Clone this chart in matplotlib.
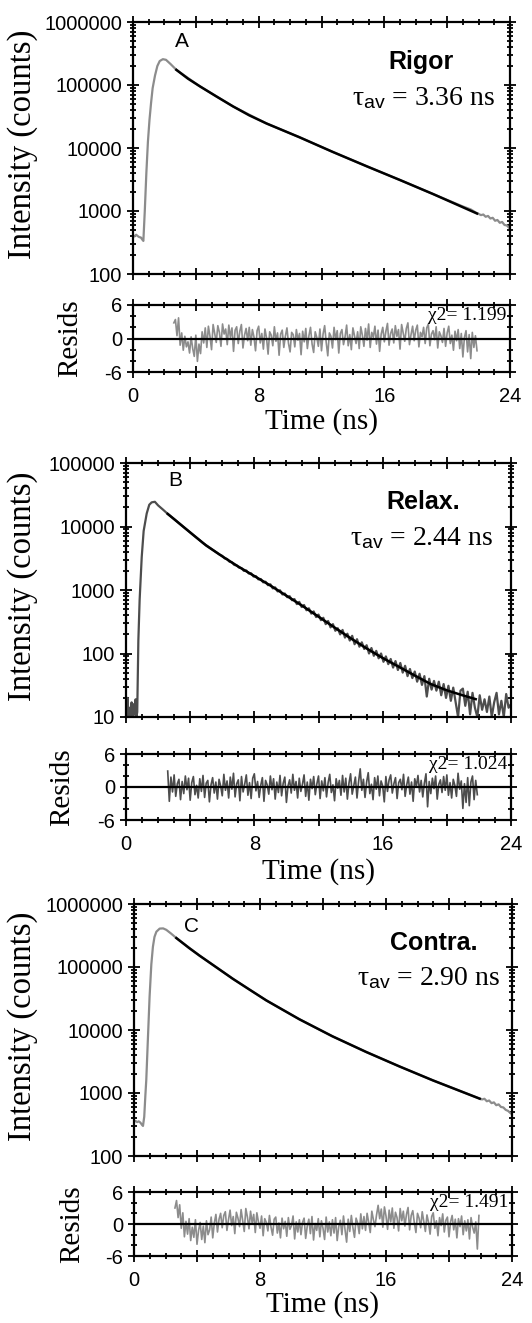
import numpy as np
import matplotlib
matplotlib.use('Agg')
import matplotlib.pyplot as plt
from matplotlib.ticker import MultipleLocator, LogLocator, FuncFormatter, NullFormatter

plt.rcParams['mathtext.fontset'] = 'custom'
plt.rcParams['mathtext.rm'] = 'Liberation Serif'
plt.rcParams['mathtext.sf'] = 'Liberation Sans'
plt.rcParams['mathtext.it'] = 'Liberation Serif:italic'
plt.rcParams['axes.unicode_minus'] = False
SANS = 'Liberation Sans'
SERIF = 'Liberation Serif'

# ---------------- data ----------------
letters = ['A', 'B', 'C']
conditions = ['Rigor', 'Relax.', 'Contra.']
tau_av = ['3.36', '2.44', '2.90']
chi2 = ['1.199', '1.024', '1.491']
y_limits = [(100, 1e6), (10, 1e5), (100, 1e6)]
x_ticks_labeled = [0, 8, 16, 24]

# Panel A (Rigor)
tA_data = [0.0, 0.1, 0.2, 0.3, 0.4, 0.5, 0.6, 0.66, 0.75, 0.85, 0.95, 1.05, 1.15, 1.25, 1.4,
           1.55, 1.7, 1.9, 2.1, 2.4, 2.76, 4.25, 6.37, 8.5, 10.6, 12.7, 14.9, 17.0, 19.1,
           21.0, 21.5, 21.9, 22.0, 22.15, 22.3, 22.45, 22.6, 22.75, 22.9, 23.05, 23.2,
           23.35, 23.5, 23.65, 23.8, 23.95, 24.0]
cA_data = [410, 395, 420, 400, 385, 380, 350, 335, 1000, 4000, 12600, 28000, 52000, 89000, 141000,
           200000, 240000, 257000, 251000, 214000, 174000, 95500, 45700, 24500, 14800, 8700, 5100,
           3100, 1860, 1180, 1060, 920, 900, 860, 880, 810, 835, 760, 780, 700, 720,
           650, 670, 600, 590, 540, 520]
tA_fit = [2.76, 3.5, 4.25, 5.3, 6.37, 7.4, 8.5, 10.6, 12.7, 14.9, 17.0, 19.1, 21.9]
cA_fit = [174000, 126000, 95500, 66000, 45700, 33000, 24500, 14800, 8700, 5100, 3100, 1860, 912]

# Panel B (Relax.)
tB_early = [0.0, 0.05, 0.1, 0.15, 0.2, 0.25, 0.3, 0.35, 0.4, 0.45, 0.5, 0.55, 0.6, 0.65, 0.7,
            0.77, 0.85, 0.98, 1.1, 1.29, 1.45, 1.6, 1.8, 2.0, 2.3, 2.6, 3.0, 3.6, 4.2, 4.8,
            5.4, 5.85]
cB_early = [18, 11, 20, 10, 14, 10, 12, 17, 10, 10, 16, 11, 19, 10, 12,
            160, 700, 3300, 8500, 16000, 22000, 24000, 24500, 21500, 18500, 15800, 13100, 9770,
            7300, 5500, 4300, 3590]
cB_tail = [3450, 3150, 3080, 2790, 2730, 2480, 2440, 2250, 2210, 2000,
           2030, 1820, 1830, 1630, 1650, 1470, 1490, 1320, 1350, 1190,
           1230, 1060, 1100, 950, 990, 850, 880, 770, 800, 690,
           720, 600, 650, 540, 580, 480, 515, 425, 460, 375,
           410, 335, 365, 290, 325, 258, 290, 228, 250, 200,
           235, 178, 205, 160, 190, 140, 168, 128, 150, 118,
           135, 100, 122, 92, 110, 84, 100, 74, 90, 68,
           82, 60, 76, 55, 71, 50, 64, 44, 57, 41,
           52, 36, 48, 32, 44, 21, 40, 27, 37, 26,
           36, 22, 33, 20, 31, 18, 29, 17, 10, 26,
           28, 15, 25, 11, 24, 14, 10, 22, 13, 19,
           12, 21, 10, 17, 24, 11, 18, 10, 23, 14,
           16]
tB_fit = [2.6, 3.6, 5.0, 6.0, 7.0, 8.0, 9.0, 10.0, 11.0, 12.0, 13.0, 14.0, 15.0, 16.0, 17.0,
          18.0, 19.0, 20.0, 21.0, 21.8]
cB_fit = [15800, 9770, 5010, 3390, 2340, 1660, 1175, 813, 562, 380, 257, 174, 120, 85, 62,
          45, 33, 26.3, 21.9, 19.1]

# Panel C (Contra.)
tC_data = [0.0, 0.1, 0.2, 0.3, 0.4, 0.5, 0.57, 0.65, 0.72, 0.78, 0.88, 0.99, 1.1, 1.2, 1.3,
           1.42, 1.63, 1.85, 2.05, 2.35, 2.69, 4.17, 6.29, 8.4, 10.5, 12.6, 14.75, 16.87,
           18.98, 21.95, 22.1, 22.25, 22.4, 22.55, 22.7, 22.85, 23.0, 23.15, 23.3, 23.45,
           23.6, 23.75, 23.9, 24.0]
cC_data = [350, 360, 345, 355, 340, 315, 300, 420, 900, 1620, 7000, 34000, 110000, 209000, 300000,
           363000, 407000, 410000, 389000, 340000, 288000, 151000, 64600, 29500, 14800, 7940,
           4470, 2630, 1585, 813, 790, 810, 740, 760, 690, 710, 640, 660, 600, 590,
           540, 520, 480, 460]
tC_fit = [2.69, 3.5, 4.17, 5.2, 6.29, 7.4, 8.4, 10.5, 12.6, 14.75, 16.87, 18.98, 21.95]
cC_fit = [288000, 200000, 151000, 100000, 64600, 42700, 29500, 14800, 7940, 4470, 2630, 1585, 813]

# Weighted residuals (one value per 0.1 ns channel from 2.6 ns to 21.9 ns)
rA = [2.8, 3.4, 0.5, 3.7, -1.2, 1.0, -2.1, 0.4, -1.5, -0.6,
      -2.6, 0.3, -1.8, -3.2, 0.6, -4.1, -1.0, -2.7, 1.2, -0.8,
      1.9, -1.6, 2.2, 0.4, -2.0, 2.5, 0.9, -0.7, 2.3, 1.1,
      -1.4, 2.6, 0.8, 1.7, -1.1, 2.4, 0.2, 1.9, -2.3, 1.5,
      2.1, -0.9, 1.3, 2.5, -1.7, 0.6, 1.8, -0.4, 2.0, -1.2,
      1.6, 0.3, -2.2, 1.4, 2.2, -0.8, 0.9, -1.9, 1.7, 0.1,
      -2.8, 1.2, 0.6, -1.3, 2.1, -0.5, 1.0, -3.0, 0.8, 1.5,
      -1.6, 0.4, 1.9, -0.9, -2.4, 1.1, 0.7, -1.5, 1.6, -0.3,
      0.9, -2.9, 1.3, -0.6, 1.8, -1.8, 0.5, 2.0, -1.0, -2.5,
      1.2, 0.2, -1.4, 1.7, -2.2, 0.8, 2.3, -0.7, -3.1, 1.0,
      0.4, -1.7, 2.0, -0.2, 1.4, -2.6, 0.9, 1.6, -1.1, 0.3,
      2.4, -1.3, 0.7, -2.0, 1.9, 0.5, -0.9, 1.2, -1.8, 2.1,
      0.6, -1.4, 1.8, -0.3, 2.6, -1.6, 1.1, 0.2, 2.2, -1.0,
      1.5, -2.3, 0.8, 2.0, -0.6, 1.3, 2.7, -1.2, 0.9, 1.7,
      -0.8, 2.3, 0.4, 1.6, -1.9, 2.5, 1.0, -0.5, 1.8, 2.8,
      -1.1, 0.7, 2.2, -0.4, 1.5, 2.4, -1.5, 1.1, 0.3, 2.0,
      -0.9, 1.9, 2.6, -1.3, 0.8, 1.4, -0.2, 2.1, -1.7, 1.2,
      0.5, -0.7, 1.8, -1.4, 1.0, 2.2, -0.9, 0.6, -2.1, 1.3,
      -0.4, 1.6, -1.8, 0.9, -3.3, 0.2, 1.4, -2.4, 0.7, -3.6,
      1.1, -1.6, 0.5, -2.2]
rB = [2.9, -2.6, 1.8, -0.9, 2.2, -1.7, 0.6, 1.4, -2.3, 1.0,
      -1.2, 2.0, -0.5, 1.6, -2.4, 0.8, 1.9, -1.4, 0.3, -2.0,
      1.5, -0.8, 2.1, -1.9, 0.7, 1.2, -2.7, 0.4, 1.7, -1.1,
      0.9, -2.2, 1.4, 0.2, -1.6, 2.3, -0.6, 1.1, -2.0, 1.8,
      -0.4, 2.5, -1.8, 0.6, 1.3, -2.5, 1.9, -0.9, 0.5, 2.2,
      -1.5, 0.8, -2.1, 1.6, 2.4, -0.7, 1.0, -1.9, 0.3, 1.7,
      -2.6, 1.2, 0.4, -1.3, 2.0, -0.5, 1.5, -2.2, 0.9, -1.0,
      2.1, -1.6, 0.7, 1.8, -2.8, 0.2, 1.3, -1.1, 2.3, -0.6,
      1.0, -2.0, 1.6, -0.8, 0.5, 2.2, -1.7, 0.9, -2.4, 1.4,
      -0.3, 1.9, -1.4, 0.6, 2.0, -2.1, 1.1, -0.7, 1.7, -1.8,
      0.8, 2.3, -1.0, 0.4, -2.5, 1.5, -0.2, 1.2, -1.5, 2.1,
      -0.9, 1.6, -2.2, 0.7, 2.4, -1.3, 0.3, 1.8, -2.0, 1.0,
      3.3, -0.6, 1.4, -1.9, 0.9, 2.6, -1.2, 0.5, -2.3, 1.7,
      -0.4, 2.0, -1.6, 1.1, 0.2, -2.7, 1.9, -0.8, 1.3, 2.2,
      -1.1, 0.6, 1.7, -2.1, 0.8, 1.4, -0.5, 2.3, -1.7, 0.4,
      1.8, -1.3, 0.9, -2.6, 1.5, 0.1, 2.1, -0.9, 1.2, -1.8,
      0.7, 2.4, -3.6, 1.0, -1.2, 1.6, -0.3, 2.0, -2.2, 0.5,
      1.3, -1.0, 1.9, -0.6, 2.2, -1.5, 0.8, -2.0, 1.4, 0.3,
      -1.7, 2.5, -0.4, 1.1, -3.9, 0.6, -2.8, 1.7, -3.4, 0.9,
      2.0, -2.3, 1.2, -1.4]
rC = [3.0, 4.4, 1.2, 3.6, -0.8, 2.1, -2.4, 0.5, -1.9, 1.0,
      -3.1, -0.6, -2.5, 0.8, -3.8, -1.2, 0.3, -2.9, -0.4, -3.5,
      0.6, -2.0, -1.1, 1.3, -2.6, 0.2, 1.8, -1.5, 0.9, 2.0,
      -0.7, 1.6, 2.3, -1.2, 0.8, 2.6, -0.3, 1.4, -1.8, 2.2,
      1.1, -0.5, 2.7, 0.6, -1.4, 2.9, 1.3, -0.9, 2.4, 0.2,
      1.8, -1.6, 2.1, 0.4, -0.8, 1.5, -2.2, 1.0, 0.3, -1.3,
      1.6, -0.6, -2.1, 0.9, 1.3, -1.7, 0.2, -2.6, 1.1, -0.9,
      0.5, -2.3, 1.2, -1.0, -0.3, 1.5, -2.8, 0.4, -1.5, 0.8,
      -2.0, 0.3, 1.1, -2.7, -0.4, 0.9, -1.8, 1.4, -3.0, 0.1,
      -1.2, 1.0, -2.4, 0.6, -0.8, -2.9, 1.3, -1.5, 0.4, -2.2,
      0.8, -1.7, 1.2, -3.1, -0.5, 0.7, -2.0, 1.5, -1.1, -3.4,
      0.9, -1.4, 1.6, -0.7, -2.5, 1.1, 0.2, -1.8, 1.9, -0.9,
      1.4, -1.2, 2.0, 0.3, -1.6, 2.4, 0.8, -0.5, 1.7, 3.5,
      1.0, 2.8, -0.6, 3.2, 1.5, -1.0, 2.6, 0.4, 3.0, -0.8,
      2.2, 1.2, -1.3, 2.9, 0.6, 2.4, -0.4, 1.8, 3.1, -1.1,
      1.6, 2.5, 0.2, -1.6, 2.0, 1.1, -0.7, 2.3, 0.5, -1.4,
      1.7, 0.3, -1.9, 1.4, 2.1, -0.8, 0.6, -2.2, 1.2, -0.3,
      1.9, -1.5, 0.7, 1.3, -2.4, 0.4, 1.6, -1.1, 0.9, -2.6,
      1.0, -0.5, 1.5, -2.0, 0.6, -1.3, 0.8, -2.8, 1.2, -0.6,
      -1.7, 0.4, -4.7, 1.6]

# channel grids
t_resid = np.round(2.6 + 0.1 * np.arange(len(rA)), 2)
tB_tail = np.round(6.0 + 0.15 * np.arange(len(cB_tail)), 2)
tB_data = list(tB_early) + list(tB_tail)
cB_data = list(cB_early) + list(cB_tail)

data_t = [tA_data, tB_data, tC_data]
data_c = [cA_data, cB_data, cC_data]
fit_t = [tA_fit, tB_fit, tC_fit]
fit_c = [cA_fit, cB_fit, cC_fit]
resids = [rA, rB, rC]

# ---------------- layout / style ----------------
W, H = 532, 1323
fig = plt.figure(figsize=(W / 100, H / 100), dpi=100)

main_boxes = [(133, 510, 22, 274), (126, 511, 463, 717), (134, 512, 904, 1156)]
res_boxes = [(133, 510, 305, 372), (126, 511, 754, 820), (134, 512, 1192, 1256)]
data_colors = ['#8c8c8c', '#4d4d4d', '#8c8c8c']
letter_pos = [(0.129, 0.922), (0.127, 0.932), (0.153, 0.91)]
cond_pos = [(0.763, 0.842), (0.772, 0.847), (0.792, 0.844)]
tau_pos = [(0.77, 0.697), (0.768, 0.703), (0.779, 0.705)]
resid_label_x = [70, 62, 72]
time_label_y = [422, 872, 1305]


def box(b):
    l, r, t, bt = b
    return [l / W, 1 - bt / H, (r - l) / W, (bt - t) / H]


def style_ticks(ax):
    for s in ax.spines.values():
        s.set_linewidth(1.6)
    ax.tick_params(which='both', direction='inout', top=True, right=True, width=1.3)
    ax.tick_params(which='major', length=8)
    ax.tick_params(which='minor', length=5)
    for lab in ax.get_xticklabels() + ax.get_yticklabels():
        lab.set_fontfamily(SANS)


int_fmt = FuncFormatter(lambda v, p: f'{int(round(v))}')
x_fmt = FuncFormatter(lambda v, p: f'{int(round(v))}' if int(round(v)) in x_ticks_labeled else '')

for i in range(3):
    ax = fig.add_axes(box(main_boxes[i]))
    ax.plot(data_t[i], data_c[i], color=data_colors[i], lw=1.6)
    ax.plot(fit_t[i], fit_c[i], color='black', lw=1.8)
    ax.set_yscale('log')
    ax.set_ylim(*y_limits[i])
    ax.set_xlim(0, 24)
    ax.xaxis.set_major_locator(MultipleLocator(4))
    ax.xaxis.set_minor_locator(MultipleLocator(1))
    ax.yaxis.set_major_locator(LogLocator(base=10, numticks=10))
    ax.yaxis.set_minor_locator(LogLocator(base=10, subs=np.arange(2, 10), numticks=20))
    ax.yaxis.set_major_formatter(int_fmt)
    ax.yaxis.set_minor_formatter(NullFormatter())
    ax.set_xticklabels([])
    ax.tick_params(axis='y', labelsize=14.5, pad=4)
    style_ticks(ax)
    ax.text(*letter_pos[i], letters[i], transform=ax.transAxes, ha='center', va='center',
            fontsize=15, family=SANS)
    ax.text(*cond_pos[i], conditions[i], transform=ax.transAxes, ha='center', va='center',
            fontsize=18, family=SANS, fontweight='bold')
    ax.text(*tau_pos[i], r'$\mathrm{\tau}_{\mathsf{av}}$ = ' + tau_av[i] + ' ns',
            transform=ax.transAxes, ha='center', va='center', fontsize=20, family=SERIF)
    l, r, t, bt = main_boxes[i]
    fig.text(23 / W, 1 - ((t + bt) / 2 - 4) / H, 'Intensity (counts)', rotation=90,
             ha='center', va='center', fontsize=23.5, family=SERIF)

    rax = fig.add_axes(box(res_boxes[i]))
    rax.plot(t_resid, resids[i], color=data_colors[i], lw=1.2)
    rax.axhline(0, color='black', lw=1.6)
    rax.set_xlim(0, 24)
    rax.set_ylim(-6, 6)
    rax.xaxis.set_major_locator(MultipleLocator(4))
    rax.xaxis.set_minor_locator(MultipleLocator(1))
    rax.xaxis.set_major_formatter(x_fmt)
    rax.yaxis.set_major_locator(MultipleLocator(6))
    rax.yaxis.set_minor_locator(MultipleLocator(2))
    rax.tick_params(labelsize=14.5)
    rax.tick_params(axis='x', pad=7)
    rax.tick_params(axis='y', pad=4)
    style_ticks(rax)
    rax.text(0.99, 0.84, 'χ2= ' + chi2[i], transform=rax.transAxes, ha='right', va='center',
             fontsize=14, family=SERIF)
    l, r, t, bt = res_boxes[i]
    fig.text(resid_label_x[i] / W, 1 - ((t + bt) / 2) / H, 'Resids', rotation=90,
             ha='center', va='center', fontsize=21, family=SERIF)
    fig.text(((l + r) / 2) / W, 1 - time_label_y[i] / H, 'Time (ns)', ha='center', va='center',
             fontsize=21, family=SERIF)

fig.savefig('out.png', dpi=100)
